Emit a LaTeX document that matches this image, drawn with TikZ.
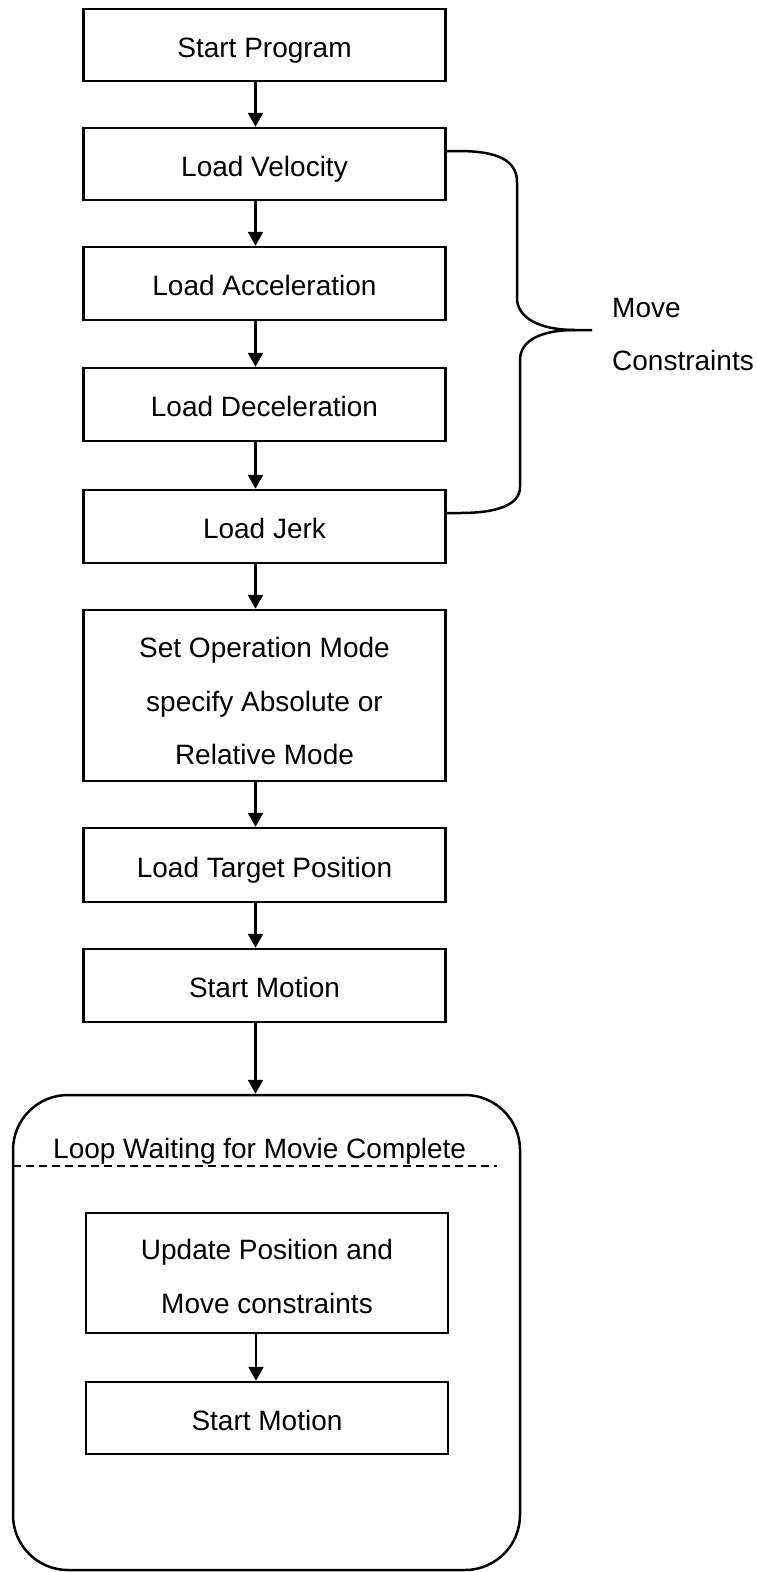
\documentclass[tikz,border=0pt]{standalone}
\usepackage{fontspec}
\setmainfont{Liberation Sans}
\usetikzlibrary{arrows.meta}
\begin{document}
\begin{tikzpicture}[x=1pt,y=-1pt,
  box/.style={draw, line width=2.5pt, minimum width=362pt, inner sep=0pt, align=center,
    text height=24pt, text depth=0pt, font=\fontsize{28}{53.5}\selectfont},
  frame/.style={draw, line width=2.5pt, minimum width=362pt, inner sep=0pt},
  mtext/.style={inner sep=0pt, align=center, anchor=north, font=\fontsize{28}{53.5}\selectfont},
  flow/.style={line width=2.5pt, -{Triangle[length=14pt,width=15pt]}},
  lbl/.style={inner sep=0pt, font=\fontsize{28}{34}\selectfont},
  brace/.style={line width=2.5pt},
  ]
\path[fill=white,use as bounding box] (0,0) rectangle (756,1572);
% main column
\node[box, minimum height=72pt] (sp)  at (264.5,45)    {Start Program};
\node[box, minimum height=72pt] (lv)  at (264.5,164)   {Load Velocity};
\node[box, minimum height=73pt] (la)  at (264.5,283.5) {Load Acceleration};
\node[box, minimum height=73pt] (ld)  at (264.5,404.5) {Load Deceleration};
\node[box, minimum height=73pt] (lj)  at (264.5,526.5) {Load Jerk};
\node[frame, minimum height=171pt] (som) at (264.5,695.5) {};
\node[mtext] (somt) at ([yshift=-28.5pt]som.north) {Set Operation Mode\\specify Absolute or\\Relative Mode};
\node[box, minimum height=74pt] (ltp) at (264.5,865)   {Load Target Position};
\node[box, minimum height=73pt] (sm)  at (264.5,985.5) {Start Motion};
% loop container
\node[draw, line width=2.5pt, rounded corners=55pt, minimum width=507pt, minimum height=475pt, inner sep=0pt] (loop) at (266.5,1332.5) {};
\coordinate (dl) at (13,1166);
\coordinate (dr) at (497,1166);
\draw[line width=2.3pt, dash pattern=on 8pt off 5pt] (dl) -- (dr);
\node[lbl, anchor=base west] (looptxt) at (53,1158) {Loop Waiting for Movie Complete};
\node[frame, minimum height=120pt] (upd) at (267,1273) {};
\node[mtext] (updt) at ([yshift=-27.5pt]upd.north) {Update Position and\\Move constraints};
\node[box, minimum height=72pt] (sm2) at (267,1418) {Start Motion};
% arrows
\foreach \a/\b in {sp/lv, lv/la, la/ld, ld/lj, lj/som, som/ltp, ltp/sm}
  \draw[flow] ([xshift=-9pt]\a.south) -- ([xshift=-9pt]\b.north);
\draw[flow] ([xshift=-9pt]sm.south) -- ([xshift=-11pt]loop.north);
\draw[flow] ([xshift=-11pt]upd.south) -- ([xshift=-11pt]sm2.north);
% brace
\coordinate (tip) at (592,330);
\draw[brace] ([yshift=13pt]lv.east) -- (458,151) .. controls (497,151) and (517,160) .. (517,182)
  -- (517,298) .. controls (517,318) and (540,330) .. (575,330) -- (tip);
\draw[brace] (575,330) .. controls (542,330) and (520,340) .. (520,360)
  -- (520,487) .. controls (520,505) and (497,513) .. (460,513) -- ([yshift=13.5pt]lj.east);
\node[lbl, anchor=base west] (mv) at (612,317) {Move};
\node[lbl, anchor=base west] (cs) at (612,370) {Constraints};
\end{tikzpicture}
\end{document}
